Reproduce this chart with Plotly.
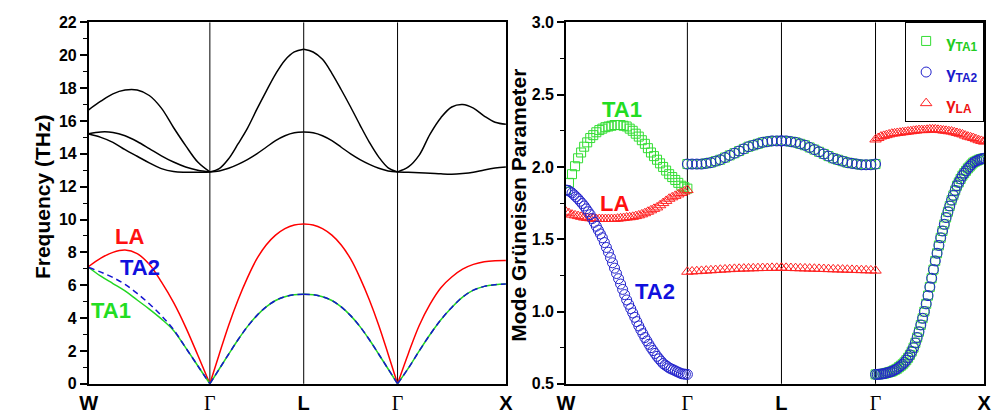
import plotly.graph_objects as go

# ---------------- high-symmetry path ----------------
k_labels = ["W", "Γ", "L", "Γ", "X"]
k_nodes = [0.0, 1.118, 1.984, 2.850, 3.850]   # path distance (2π/a)

# ---------------- phonon dispersion (THz) ----------------
# 11 samples per segment: W-Γ, Γ-L, L-Γ, Γ-X
opt_hi_wg = [16.68, 17.2, 17.65, 17.88, 17.88, 17.55, 16.78, 15.6, 14.5, 13.5, 12.9]
opt_hi_gl = [12.9, 13.1, 13.7, 14.6, 15.55, 16.7, 17.8, 18.85, 19.7, 20.2, 20.37]
opt_hi_lg = [20.37, 20.2, 19.75, 18.9, 17.9, 16.85, 15.75, 14.7, 13.8, 13.15, 12.9]
opt_hi_gx = [12.9, 13.2, 13.92, 15.2, 16.2, 16.85, 17.0, 16.78, 16.3, 15.92, 15.8]

opt_mid_wg = [15.22, 15.33, 15.3, 15.1, 14.75, 14.32, 13.88, 13.5, 13.2, 13.0, 12.9]
opt_mid_gl = [12.9, 12.96, 13.12, 13.36, 13.65, 14.0, 14.4, 14.8, 15.1, 15.28, 15.32]
opt_mid_lg = [15.32, 15.28, 15.1, 14.8, 14.4, 14.0, 13.65, 13.36, 13.12, 12.96, 12.9]
opt_mid_gx = [12.9, 12.88, 12.85, 12.82, 12.78, 12.76, 12.8, 12.88, 13.02, 13.13, 13.19]

opt_lo_wg = [15.2, 15.0, 14.7, 14.25, 13.85, 13.45, 13.1, 12.92, 12.88, 12.88, 12.9]

la_wg = [7.14, 7.65, 8.0, 8.14, 7.92, 7.27, 6.2, 4.95, 3.45, 1.75, 0.0]
la_gl = [0.0, 1.8, 3.55, 5.1, 6.45, 7.6, 8.45, 9.05, 9.45, 9.67, 9.73]
la_lg = [9.73, 9.67, 9.45, 9.05, 8.45, 7.6, 6.45, 5.1, 3.55, 1.8, 0.0]
la_gx = [0.0, 1.85, 3.55, 4.85, 5.85, 6.5, 6.98, 7.27, 7.43, 7.49, 7.5]

ta1_wg = [7.08, 6.55, 6.1, 5.65, 5.1, 4.55, 3.95, 3.25, 2.2, 1.1, 0.0]
ta_gl = [0.0, 0.9, 1.8, 2.68, 3.48, 4.15, 4.68, 5.07, 5.3, 5.42, 5.45]
ta_lg = [5.45, 5.42, 5.3, 5.07, 4.68, 4.15, 3.48, 2.68, 1.8, 0.9, 0.0]
ta_gx = [0.0, 0.95, 2.0, 3.0, 3.9, 4.65, 5.28, 5.7, 5.93, 6.03, 6.07]
ta2_wg = [7.08, 6.8, 6.47, 6.05, 5.5, 4.87, 4.15, 3.3, 2.2, 1.1, 0.0]

# ---------------- mode Grüneisen parameters ----------------
g_ta1_wg = [1.84, 1.89, 1.95, 2.005, 2.06, 2.10, 2.14, 2.17, 2.20, 2.22, 2.24, 2.255, 2.265, 2.275,
            2.28, 2.285, 2.29, 2.29, 2.29, 2.285, 2.28, 2.265, 2.25, 2.23, 2.21, 2.185, 2.16, 2.13,
            2.10, 2.075, 2.05, 2.025, 2.00, 1.975, 1.95, 1.93, 1.91, 1.89, 1.87, 1.86, 1.85]
g_ta2_wg = [1.84, 1.838, 1.83, 1.82, 1.807, 1.793, 1.78, 1.763, 1.747, 1.73, 1.71, 1.69, 1.67, 1.643,
            1.617, 1.59, 1.563, 1.537, 1.51, 1.477, 1.443, 1.41, 1.373, 1.337, 1.30, 1.263, 1.227,
            1.19, 1.153, 1.117, 1.08, 1.05, 1.02, 0.99, 0.96, 0.93, 0.90, 0.873, 0.847, 0.82, 0.797,
            0.773, 0.75, 0.73, 0.71, 0.69, 0.673, 0.657, 0.64, 0.63, 0.62, 0.61, 0.603, 0.597, 0.59,
            0.583, 0.577, 0.57, 0.568, 0.566, 0.565]
g_ta_gl = [2.02, 2.02, 2.02, 2.02, 2.025, 2.03, 2.04, 2.05, 2.065, 2.08, 2.095, 2.11, 2.125, 2.14,
           2.15, 2.16, 2.17, 2.175, 2.18, 2.18, 2.18]
g_ta_lg = [2.18, 2.18, 2.175, 2.17, 2.16, 2.15, 2.135, 2.12, 2.105, 2.09, 2.075, 2.06, 2.05, 2.04,
           2.03, 2.025, 2.02, 2.015, 2.015, 2.015, 2.02]
g_ta_gx = [0.565, 0.565, 0.566, 0.567, 0.569, 0.571, 0.575, 0.578, 0.582, 0.585, 0.592, 0.598, 0.605,
           0.615, 0.625, 0.635, 0.648, 0.663, 0.68, 0.70, 0.723, 0.75, 0.783, 0.82, 0.86, 0.907,
           0.953, 1.00, 1.053, 1.11, 1.17, 1.23, 1.29, 1.35, 1.403, 1.457, 1.51, 1.557, 1.603, 1.65,
           1.69, 1.73, 1.77, 1.803, 1.837, 1.87, 1.893, 1.917, 1.94, 1.957, 1.973, 1.99, 2.003,
           2.017, 2.03, 2.037, 2.043, 2.05, 2.053, 2.057, 2.06]
g_la_wg = [1.69, 1.68, 1.67, 1.665, 1.66, 1.655, 1.65, 1.647, 1.645, 1.642, 1.64, 1.64, 1.64, 1.64,
           1.64, 1.64, 1.64, 1.642, 1.645, 1.647, 1.65, 1.652, 1.655, 1.66, 1.665, 1.672, 1.68, 1.69,
           1.70, 1.71, 1.72, 1.735, 1.75, 1.765, 1.78, 1.79, 1.80, 1.81, 1.82, 1.83, 1.84]
g_la_gl = [1.275, 1.277, 1.279, 1.281, 1.283, 1.285, 1.287, 1.289, 1.291, 1.293, 1.295, 1.296,
           1.297, 1.298, 1.299, 1.300, 1.301, 1.301, 1.302, 1.302, 1.302]
g_la_lg = [1.302, 1.302, 1.301, 1.300, 1.299, 1.298, 1.297, 1.296, 1.295, 1.294, 1.293, 1.292,
           1.291, 1.290, 1.289, 1.288, 1.287, 1.286, 1.285, 1.284, 1.283]
g_la_gx = [2.19, 2.20, 2.21, 2.215, 2.22, 2.225, 2.23, 2.232, 2.235, 2.237, 2.24, 2.242, 2.245, 2.247,
           2.25, 2.252, 2.255, 2.255, 2.255, 2.257, 2.26, 2.26, 2.26, 2.257, 2.255, 2.252, 2.25,
           2.247, 2.245, 2.24, 2.235, 2.23, 2.225, 2.217, 2.21, 2.205, 2.20, 2.192, 2.185, 2.18, 2.175]

RED = "#ff0000"
GREEN = "#22d622"
BLUE = "#1414d0"
FONT = "Liberation Sans"


def path_xy(segments):
    xs, ys = [], []
    for s, vals in enumerate(segments):
        if vals is None:
            continue
        a, b = k_nodes[s], k_nodes[s + 1]
        n = len(vals)
        xs += [a + (b - a) * i / (n - 1) for i in range(n)] + [None]
        ys += list(vals) + [None]
    return xs, ys


fig = go.Figure()

# ---- left panel: dispersion ----
for segs in ([opt_hi_wg, opt_hi_gl, opt_hi_lg, opt_hi_gx],
             [opt_mid_wg, opt_mid_gl, opt_mid_lg, opt_mid_gx],
             [opt_lo_wg, None, None, None]):
    x, y = path_xy(segs)
    fig.add_trace(go.Scatter(x=x, y=y, mode="lines", line=dict(color="black", width=1.5, shape="spline"),
                             showlegend=False, xaxis="x", yaxis="y"))

x, y = path_xy([la_wg, la_gl, la_lg, la_gx])
fig.add_trace(go.Scatter(x=x, y=y, mode="lines", line=dict(color=RED, width=1.5, shape="spline"),
                         showlegend=False, xaxis="x", yaxis="y"))
x, y = path_xy([ta1_wg, ta_gl, ta_lg, ta_gx])
fig.add_trace(go.Scatter(x=x, y=y, mode="lines", line=dict(color=GREEN, width=1.5, shape="spline"),
                         showlegend=False, xaxis="x", yaxis="y"))
x, y = path_xy([ta2_wg, ta_gl, ta_lg, ta_gx])
fig.add_trace(go.Scatter(x=x, y=y, mode="lines",
                         line=dict(color=BLUE, width=1.5, shape="spline", dash="6px,4px"),
                         showlegend=False, xaxis="x", yaxis="y"))

# ---- right panel: Grüneisen ----
x, y = path_xy([g_ta1_wg, g_ta_gl, g_ta_lg, g_ta_gx])
fig.add_trace(go.Scatter(x=x, y=y, mode="markers", xaxis="x2", yaxis="y2",
                         marker=dict(symbol="square-open", size=9, color="#33dd33", line=dict(width=1)),
                         name='<span style="color:#22cc22">γ<sub>TA1</sub></span>',
                         legendrank=1, legendgroup="a"))
x, y = path_xy([g_la_wg, g_la_gl, g_la_lg, g_la_gx])
fig.add_trace(go.Scatter(x=x, y=y, mode="markers", xaxis="x2", yaxis="y2",
                         marker=dict(symbol="triangle-up-open", size=10, color="#ff2222", line=dict(width=1)),
                         name='<span style="color:#ee1111">γ<sub>LA</sub></span>',
                         legendrank=3, legendgroup="c"))
x, y = path_xy([g_ta2_wg, g_ta_gl, g_ta_lg, g_ta_gx])
fig.add_trace(go.Scatter(x=x, y=y, mode="markers", xaxis="x2", yaxis="y2",
                         marker=dict(symbol="circle-open", size=10, color="#2222cc", line=dict(width=1)),
                         name='<span style="color:#1a1acc">γ<sub>TA2</sub></span>',
                         legendrank=2, legendgroup="b"))

gamma_tick = '<span style="font-family:Liberation Serif;font-weight:normal">Γ</span>'
ticktext = [gamma_tick if t == "Γ" else t for t in k_labels]

frame = dict(showline=True, mirror=True, linecolor="black", linewidth=1.5, showgrid=False, zeroline=False)
xcommon = dict(range=[k_nodes[0], k_nodes[-1]], tickmode="array", tickvals=k_nodes, ticktext=ticktext,
               ticks="", tickfont=dict(family=FONT, size=20, color="black", weight="bold"), **frame)
ydom = [0.0652, 0.9642]

shapes = []
for xa in ("x", "x2"):
    for kx in k_nodes[1:-1]:
        shapes.append(dict(type="line", xref=xa, yref=("y" if xa == "x" else "y2") + " domain",
                           x0=kx, x1=kx, y0=0, y1=1, line=dict(color="black", width=1), layer="below"))

ann = []
def label(text, x, y, color, xref, yref):
    ann.append(dict(text=text, x=x, y=y, xref=xref, yref=yref, showarrow=False,
                    font=dict(family=FONT, size=22, color=color, weight="bold")))

label("LA", 0.378, 8.95, "#ff1010", "x", "y")
label("TA2", 0.475, 7.1, "#1010dd", "x", "y")
label("TA1", 0.203, 4.48, "#22dd22", "x", "y")
label("TA1", 0.519, 2.40, "#22dd22", "x2", "y2")
label("LA", 0.444, 1.75, "#ff1010", "x2", "y2")
label("TA2", 0.822, 1.14, "#1010dd", "x2", "y2")

ann.append(dict(text="Frequency (THz)", x=0.021, y=0.53, xref="paper", yref="paper", showarrow=False,
                textangle=-90, font=dict(family=FONT, size=21, color="black", weight="bold")))
ann.append(dict(text="Mode Grüneisen Parameter", x=0.518, y=0.51, xref="paper", yref="paper",
                showarrow=False, textangle=-90,
                font=dict(family=FONT, size=21, color="black", weight="bold")))

fig.update_layout(
    width=1000, height=419,
    margin=dict(l=0, r=0, t=0, b=0),
    paper_bgcolor="white", plot_bgcolor="white",
    xaxis=dict(domain=[0.081, 0.505], anchor="y", **xcommon),
    xaxis2=dict(domain=[0.566, 0.991], anchor="y2", **xcommon),
    yaxis=dict(domain=ydom, anchor="x", range=[0, 22], tick0=0, dtick=2, ticks="outside", ticklen=7,
               tickwidth=1.5, tickcolor="black",
               minor=dict(dtick=1, ticks="outside", ticklen=4, tickwidth=1, tickcolor="black"),
               tickfont=dict(family=FONT, size=16, color="black", weight="bold"), **frame),
    yaxis2=dict(domain=ydom, anchor="x2", range=[0.5, 3.0], tick0=0.5, dtick=0.5, tickformat=".1f",
                ticks="outside", ticklen=7, tickwidth=1.5, tickcolor="black",
                minor=dict(dtick=0.25, ticks="outside", ticklen=4, tickwidth=1, tickcolor="black"),
                tickfont=dict(family=FONT, size=16, color="black", weight="bold"), **frame),
    showlegend=True,
    legend=dict(x=0.991, y=0.9642, xanchor="right", yanchor="top", bgcolor="white",
                bordercolor="black", borderwidth=1, tracegroupgap=6, itemwidth=30,
                font=dict(family=FONT, size=17, color="black", weight="bold")),
    shapes=shapes, annotations=ann,
)

fig.write_html("out.html")
